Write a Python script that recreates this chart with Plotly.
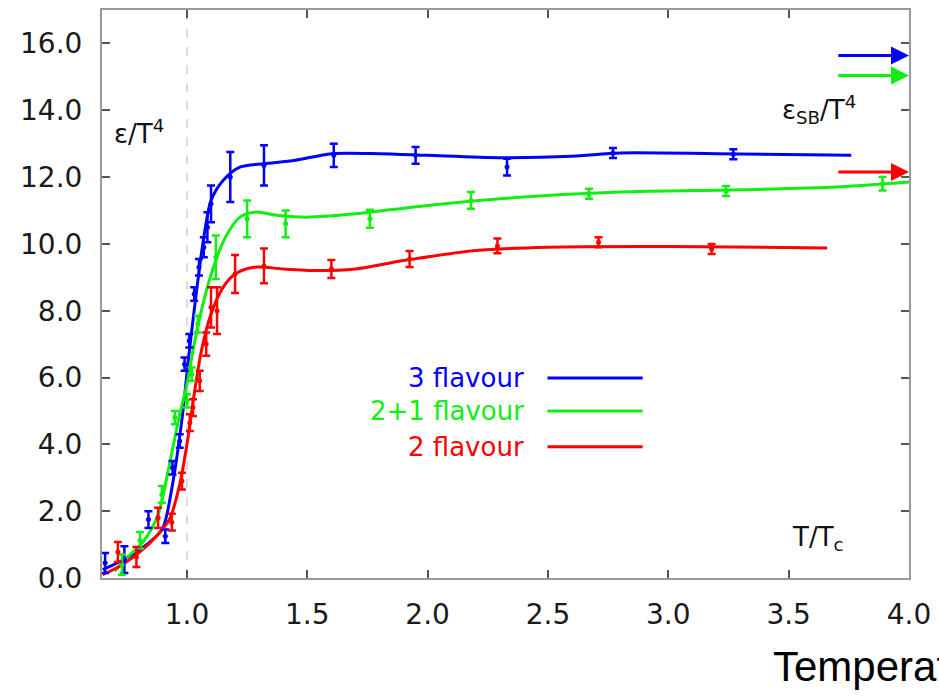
import plotly.graph_objects as go

# ---------------- data ----------------
# 3 flavour (blue) lattice points
b_x = [0.66, 0.74, 0.84, 0.91, 0.94, 0.97, 0.99, 1.01, 1.03, 1.05, 1.07, 1.085, 1.10, 1.18, 1.32, 1.61, 1.95, 2.33, 2.77, 3.27]
b_y = [0.45, 0.55, 1.75, 1.25, 3.3, 4.1, 6.4, 7.1, 8.5, 9.3, 9.9, 10.5, 11.2, 12.0, 12.35, 12.65, 12.65, 12.3, 12.72, 12.68]
b_e = [0.3, 0.4, 0.25, 0.2, 0.2, 0.2, 0.2, 0.2, 0.2, 0.25, 0.3, 0.45, 0.55, 0.75, 0.6, 0.35, 0.25, 0.25, 0.15, 0.15]
# 3 flavour fit curve
bc_x = [0.65, 0.75, 0.85, 0.90, 0.94, 0.98, 1.01, 1.04, 1.07, 1.10, 1.15, 1.22, 1.32, 1.45, 1.60, 1.80, 2.00, 2.30, 2.60, 2.80, 3.20, 3.76]
bc_y = [0.25, 0.6, 1.1, 1.5, 2.8, 4.8, 6.8, 8.6, 10.2, 11.3, 11.9, 12.3, 12.4, 12.5, 12.7, 12.7, 12.65, 12.58, 12.62, 12.72, 12.7, 12.65]

# 2+1 flavour (green)
g_x = [0.73, 0.805, 0.896, 0.95, 1.0, 1.02, 1.045, 1.12, 1.25, 1.41, 1.76, 2.18, 2.67, 3.24, 3.89]
g_y = [0.4, 1.13, 2.5, 4.8, 5.3, 6.1, 7.6, 9.6, 10.75, 10.6, 10.75, 11.3, 11.5, 11.58, 11.8]
g_e = [0.3, 0.25, 0.25, 0.2, 0.2, 0.2, 0.25, 0.65, 0.55, 0.4, 0.27, 0.25, 0.15, 0.15, 0.2]
gc_x = [0.70, 0.75, 0.82, 0.88, 0.93, 0.97, 1.00, 1.03, 1.07, 1.11, 1.16, 1.22, 1.28, 1.38, 1.50, 1.70, 2.00, 2.40, 2.80, 3.30, 3.70, 4.00]
gc_y = [0.2, 0.6, 1.1, 1.9, 3.5, 4.9, 5.8, 7.0, 8.3, 9.3, 10.2, 10.8, 10.95, 10.85, 10.8, 10.9, 11.15, 11.4, 11.55, 11.62, 11.7, 11.85]

# 2 flavour (red)
r_x = [0.713, 0.79, 0.88, 0.937, 0.979, 1.012, 1.025, 1.053, 1.08, 1.10, 1.125, 1.20, 1.32, 1.60, 1.925, 2.29, 2.71, 3.18]
r_y = [0.78, 0.63, 1.8, 1.67, 2.9, 4.65, 5.1, 5.9, 7.0, 8.1, 8.0, 9.1, 9.34, 9.25, 9.55, 9.94, 10.05, 9.85]
r_e = [0.3, 0.3, 0.3, 0.25, 0.25, 0.25, 0.25, 0.3, 0.35, 0.6, 0.7, 0.57, 0.52, 0.27, 0.24, 0.22, 0.15, 0.15]
rc_x = [0.65, 0.72, 0.80, 0.88, 0.93, 0.97, 1.00, 1.03, 1.06, 1.10, 1.15, 1.20, 1.28, 1.40, 1.55, 1.70, 1.90, 2.20, 2.50, 3.00, 3.66]
rc_y = [0.1, 0.35, 0.75, 1.3, 1.8, 2.8, 4.0, 5.5, 6.8, 7.9, 8.7, 9.1, 9.3, 9.25, 9.2, 9.25, 9.5, 9.8, 9.9, 9.92, 9.88]

# Stefan-Boltzmann limits (arrows)
sb_names = ["3 flavour", "2+1 flavour", "2 flavour"]
sb_values = [15.64, 15.04, 12.15]
sb_start = 3.70
sb_end = 4.0

colors = ["#0000ff", "#11ee11", "#ff0000"]
x_ticks = [1.0, 1.5, 2.0, 2.5, 3.0, 3.5, 4.0]
y_ticks = [0, 2, 4, 6, 8, 10, 12, 14, 16]

# ---------------- figure ----------------
fig = go.Figure()

series = [
    (bc_x, bc_y, b_x, b_y, b_e, colors[0]),
    (gc_x, gc_y, g_x, g_y, g_e, colors[1]),
    (rc_x, rc_y, r_x, r_y, r_e, colors[2]),
]

for cx, cy, px, py, pe, col in series:
    fig.add_trace(go.Scatter(x=cx, y=cy, mode="lines",
                             line=dict(color=col, width=3, shape="spline", smoothing=0.8),
                             showlegend=False, hoverinfo="skip"))
for cx, cy, px, py, pe, col in series:
    fig.add_trace(go.Scatter(x=px, y=py, mode="markers",
                             marker=dict(color=col, size=5, symbol="circle"),
                             error_y=dict(type="data", array=pe, color=col, thickness=2.5, width=4),
                             showlegend=False))

# vertical dashed line at T/Tc = 1
fig.add_vline(x=1.0, line=dict(color="#bbbbbb", width=1, dash="dash"), layer="below")

# SB arrows
for val, col in zip(sb_values, colors):
    fig.add_annotation(x=sb_end, y=val, ax=sb_start, ay=val, xref="x", yref="y",
                       axref="x", ayref="y", showarrow=True, arrowhead=2,
                       arrowsize=1.2, arrowwidth=3, arrowcolor=col, text="")

FONT = "DejaVu Sans, Liberation Sans, Arial"

# Legend (text + line swatches)
leg_y = [0.352, 0.294, 0.231]
for name, col, yy in zip(sb_names, colors, leg_y):
    fig.add_annotation(x=0.525, y=yy, xref="paper", yref="paper", text=name,
                       showarrow=False, xanchor="right", yanchor="middle",
                       font=dict(family=FONT, size=26, color=col))
    fig.add_shape(type="line", xref="paper", yref="paper",
                  x0=0.552, x1=0.67, y0=yy, y1=yy, line=dict(color=col, width=3))

label_font = dict(family=FONT, size=26, color="#111111")
fig.add_annotation(x=0.013, y=0.785, xref="paper", yref="paper", text="ε/T<sup>4</sup>",
                   showarrow=False, xanchor="left", yanchor="middle", font=label_font)
fig.add_annotation(x=0.84, y=0.825, xref="paper", yref="paper", text="ε<sub>SB</sub>/T<sup>4</sup>",
                   showarrow=False, xanchor="left", yanchor="middle", font=label_font)
fig.add_annotation(x=0.852, y=0.07, xref="paper", yref="paper", text="T/T<sub>c</sub>",
                   showarrow=False, xanchor="left", yanchor="middle", font=label_font)
fig.add_annotation(x=0.829, y=-0.156, xref="paper", yref="paper", text="Temperature",
                   showarrow=False, xanchor="left", yanchor="middle",
                   font=dict(family="Liberation Sans, Arial", size=42, color="#000000"))

tick_font = dict(family=FONT, size=28, color="#1a1a1a")
fig.update_xaxes(range=[0.647, 4.0], tickvals=x_ticks, tickformat=".1f",
                 ticks="inside", ticklen=8, tickcolor="#555555", tickwidth=1.5,
                 showline=True, linecolor="#999999", linewidth=2, mirror="ticks",
                 showgrid=False, zeroline=False, tickfont=tick_font, ticklabelstandoff=10)
fig.update_yaxes(range=[0, 17.0], tickvals=y_ticks, tickformat=".1f",
                 ticks="inside", ticklen=8, tickcolor="#555555", tickwidth=1.5,
                 showline=True, linecolor="#999999", linewidth=2, mirror="ticks",
                 showgrid=False, zeroline=False, tickfont=tick_font, ticklabelstandoff=12)

fig.update_layout(width=939, height=696, margin=dict(l=102, r=28, t=8, b=118),
                  plot_bgcolor="white", paper_bgcolor="white")

fig.write_html("out.html")
